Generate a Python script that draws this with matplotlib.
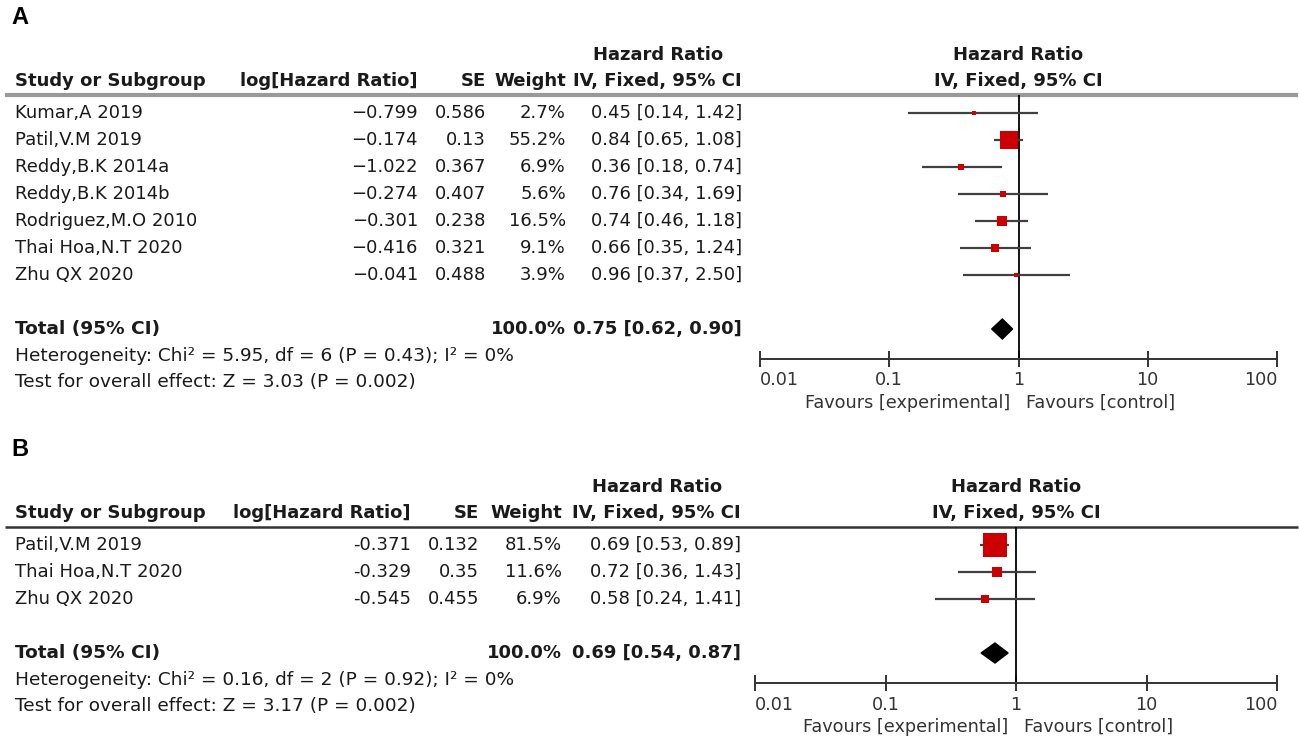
import numpy as np
import matplotlib.pyplot as plt
from matplotlib.patches import Polygon
from matplotlib.ticker import NullLocator

W, H = 1299, 739

# ---- panel A data ----
studies_a = ["Kumar,A 2019", "Patil,V.M 2019", "Reddy,B.K 2014a", "Reddy,B.K 2014b",
             "Rodriguez,M.O 2010", "Thai Hoa,N.T 2020", "Zhu QX 2020"]
log_hr_a = [-0.799, -0.174, -1.022, -0.274, -0.301, -0.416, -0.041]
se_a = [0.586, 0.13, 0.367, 0.407, 0.238, 0.321, 0.488]
weight_a = [2.7, 55.2, 6.9, 5.6, 16.5, 9.1, 3.9]
hr_a = [0.45, 0.84, 0.36, 0.76, 0.74, 0.66, 0.96]
lo_a = [0.14, 0.65, 0.18, 0.34, 0.46, 0.35, 0.37]
hi_a = [1.42, 1.08, 0.74, 1.69, 1.18, 1.24, 2.50]
total_a = [0.75, 0.62, 0.90]
het_a = "Heterogeneity: Chi² = 5.95, df = 6 (P = 0.43); I² = 0%"
test_a = "Test for overall effect: Z = 3.03 (P = 0.002)"

# ---- panel B data ----
studies_b = ["Patil,V.M 2019", "Thai Hoa,N.T 2020", "Zhu QX 2020"]
log_hr_b = [-0.371, -0.329, -0.545]
se_b = [0.132, 0.35, 0.455]
weight_b = [81.5, 11.6, 6.9]
hr_b = [0.69, 0.72, 0.58]
lo_b = [0.53, 0.36, 0.24]
hi_b = [0.89, 1.43, 1.41]
total_b = [0.69, 0.54, 0.87]
het_b = "Heterogeneity: Chi² = 0.16, df = 2 (P = 0.92); I² = 0%"
test_b = "Test for overall effect: Z = 3.17 (P = 0.002)"

ticks = [0.01, 0.1, 1, 10, 100]
tick_labels = ["0.01", "0.1", "1", "10", "100"]

plt.rcParams['font.family'] = ['DejaVu Sans']
FS = 13
TXT = '#1a1a1a'
RED = '#cc0000'

fig = plt.figure(figsize=(W / 100, H / 100), dpi=100)
bg = fig.add_axes([0, 0, 1, 1])
bg.set_xlim(0, W)
bg.set_ylim(H, 0)
bg.axis('off')


def fmt(v, minus):
    return f"{v:g}".replace('-', minus)


def panel(letter, top, studies, log_hr, se, weight, hr, lo, hi, total, het, test,
          cols, plot_x, minus, line_col, line_w, box_k):
    y_title, y_head, y_line = top, top + 26, top + 40
    y_rows = y_line + 18 + 27 * np.arange(len(studies))
    y_total = y_rows[-1] + 54
    y_het = y_total + 27
    y_test = y_het + 26
    y_axis = y_het + 3
    c_log, c_se, c_w, c_ci = cols

    bg.text(11, top - 37, letter, fontsize=17, fontweight='bold', family='Liberation Sans',
            va='center', ha='left', color='black')
    bg.text((c_ci + 584) / 2 - 5, y_title, "Hazard Ratio", fontsize=FS, fontweight='bold',
            ha='center', va='center', color=TXT)
    heads = [(15, "Study or Subgroup", 'left'), (c_log, "log[Hazard Ratio]", 'right'),
             (c_se, "SE", 'right'), (c_w, "Weight", 'right'), (c_ci, "IV, Fixed, 95% CI", 'right')]
    for x, s, ha in heads:
        bg.text(x, y_head, s, fontsize=FS, fontweight='bold', ha=ha, va='center', color=TXT)
    bg.plot([5, W - 1], [y_line, y_line], color=line_col, lw=line_w, solid_capstyle='butt')

    for i, name in enumerate(studies):
        y = y_rows[i]
        bg.text(15, y, name, fontsize=FS, ha='left', va='center', color=TXT)
        bg.text(c_log, y, fmt(log_hr[i], minus), fontsize=FS, ha='right', va='center', color=TXT)
        bg.text(c_se, y, fmt(se[i], minus), fontsize=FS, ha='right', va='center', color=TXT)
        bg.text(c_w, y, f"{weight[i]:.1f}%", fontsize=FS, ha='right', va='center', color=TXT)
        bg.text(c_ci, y, f"{hr[i]:.2f} [{lo[i]:.2f}, {hi[i]:.2f}]", fontsize=FS,
                ha='right', va='center', color=TXT)

    bg.text(15, y_total, "Total (95% CI)", fontsize=FS + 0.3, fontweight='bold', ha='left', va='center', color=TXT)
    bg.text(c_w, y_total, "100.0%", fontsize=FS, fontweight='bold', ha='right', va='center', color=TXT)
    bg.text(c_ci, y_total, f"{total[0]:.2f} [{total[1]:.2f}, {total[2]:.2f}]", fontsize=FS,
            fontweight='bold', ha='right', va='center', color=TXT)
    bg.text(15, y_het, het, fontsize=FS + 0.3, ha='left', va='center', color=TXT)
    bg.text(15, y_test, test, fontsize=FS + 0.3, ha='left', va='center', color=TXT)

    # forest plot, y in pixel units
    x0, x1 = plot_x
    fa = fig.add_axes([x0 / W, 1 - y_axis / H, (x1 - x0) / W, (y_axis - y_line) / H])
    fa.set_xscale('log')
    fa.set_xlim(0.01, 100)
    fa.set_ylim(y_axis, y_line)
    fa.patch.set_alpha(0)
    for s in ['top', 'left', 'right']:
        fa.spines[s].set_visible(False)
    fa.spines['bottom'].set_color('#333333')
    fa.spines['bottom'].set_linewidth(1.4)
    fa.set_yticks([])
    fa.set_xticks(ticks, labels=tick_labels)
    fa.xaxis.set_minor_locator(NullLocator())
    fa.tick_params(axis='x', direction='inout', length=12, width=1.4, color='#333333',
                   labelsize=FS - 0.3, labelcolor='#333333', pad=3)
    labs = fa.get_xticklabels()
    labs[0].set_ha('left')
    labs[-1].set_ha('right')
    fa.axvline(1, color='black', lw=1.3)

    for i in range(len(studies)):
        y = y_rows[i]
        fa.plot([lo[i], hi[i]], [y, y], color='#404040', lw=1.6, solid_capstyle='butt')
        fa.plot(hr[i], y, marker='s', color=RED, ms=box_k * np.sqrt(weight[i]) * 0.72,
                mec=RED, mew=0, clip_on=False)
    h = 10
    fa.add_patch(Polygon([(total[1], y_total), (total[0], y_total - h), (total[2], y_total),
                          (total[0], y_total + h)], closed=True, color='black', clip_on=False))

    xc = x0 + (x1 - x0) / 2
    bg.text(xc, y_title, "Hazard Ratio", fontsize=FS, fontweight='bold', ha='center', va='center', color=TXT)
    bg.text(xc, y_head, "IV, Fixed, 95% CI", fontsize=FS, fontweight='bold', ha='center', va='center', color=TXT)
    bg.text(xc - 8, y_axis + 44, "Favours [experimental]", fontsize=FS - 0.3, ha='right', va='center', color='#333333')
    bg.text(xc + 8, y_axis + 44, "Favours [control]", fontsize=FS - 0.3, ha='left', va='center', color='#333333')


panel("A", 55, studies_a, log_hr_a, se_a, weight_a, hr_a, lo_a, hi_a, total_a, het_a, test_a,
      cols=(418, 486, 566, 742), plot_x=(760, 1277), minus='−', line_col='#999999', line_w=3,
      box_k=2.5)
panel("B", 487, studies_b, log_hr_b, se_b, weight_b, hr_b, lo_b, hi_b, total_b, het_b, test_b,
      cols=(411, 479, 562, 741), plot_x=(755, 1277), minus='-', line_col='#333333', line_w=1.8,
      box_k=2.7)

fig.savefig("out.png", dpi=100)
